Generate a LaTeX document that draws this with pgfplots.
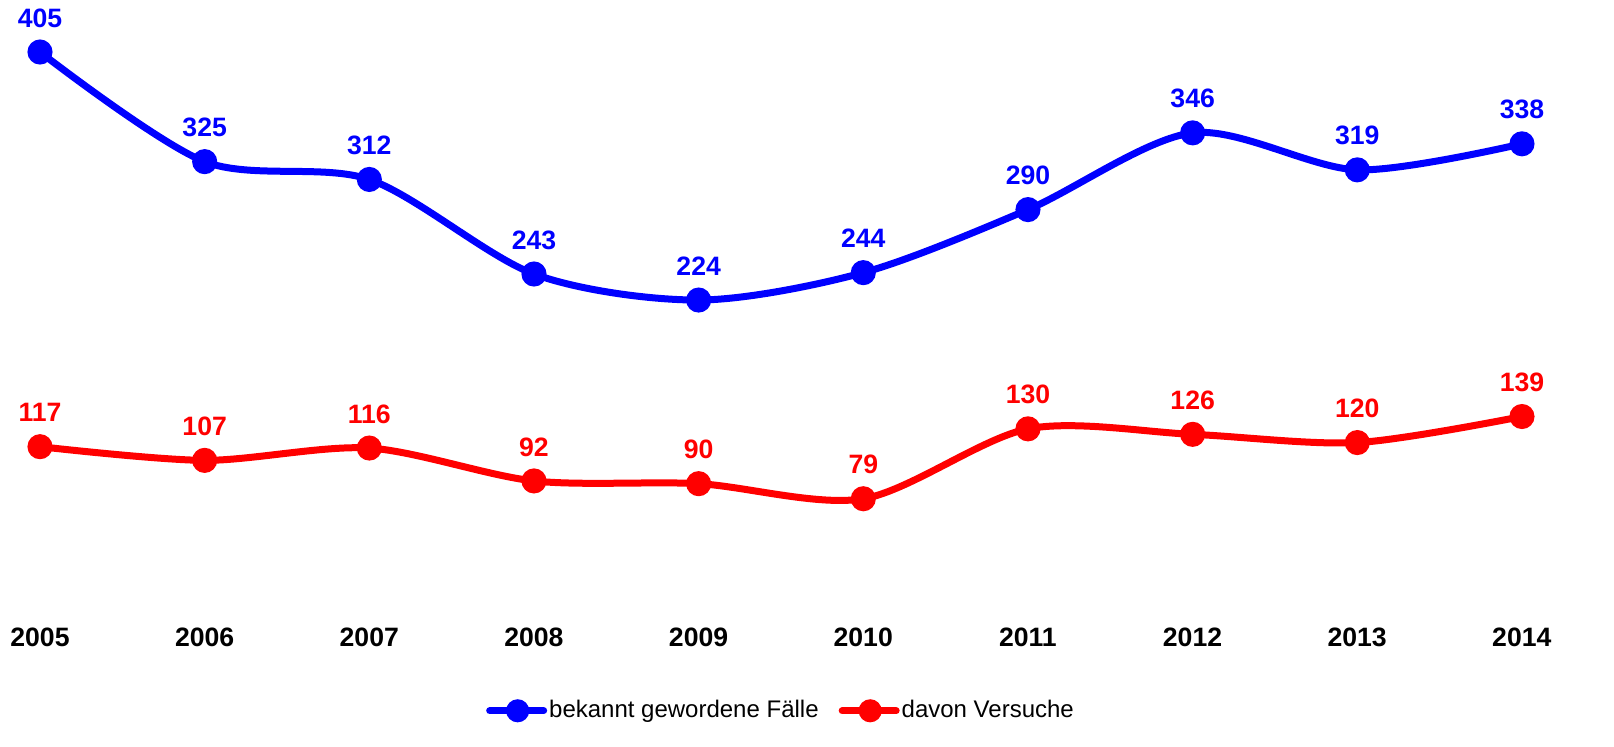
\documentclass[border=0pt]{standalone}
\usepackage{fontspec}
\setmainfont{Liberation Sans}
\usepackage{pgfplots}
\pgfplotsset{compat=1.18}
\definecolor{serA}{RGB}{0,0,255}
\definecolor{serB}{RGB}{255,0,0}

\begin{document}
\begin{tikzpicture}
    % fixed page: axis box sits at (0,0) -- (741pt,277.5pt)
    \useasboundingbox (-20pt,-69.5pt) rectangle (787pt,303.5pt);
    \begin{axis}[
        scale only axis,
        width=741pt,
        height=277.5pt,
        xmin=2005, xmax=2014,
        ymin=0, ymax=405,
        clip=false,
        axis line style={draw=none},
        tick style={draw=none},
        ytick=\empty,
        xtick={2005,...,2014},
        xticklabels={2005,2006,2007,2008,2009,2010,2011,2012,2013,2014},
        xticklabel style={font=\fontsize{13.3}{16}\selectfont\bfseries, anchor=center, yshift=-15pt},
        /pgf/number format/assume math mode=true,
        nodes near coords,
        every node near coord/.append style={font=\fontsize{13.3}{16}\selectfont\bfseries, anchor=center, yshift=17pt},
        legend columns=2,
        legend style={draw=none, at={(axis description cs:0.5,-0.187)}, anchor=center,
            font=\fontsize{12}{14}\selectfont, column sep=0pt,
            nodes={inner xsep=1pt},
            /tikz/every even column/.append style={column sep=9pt}},
        legend image code/.code={
            \draw[line width=3.5pt, line cap=round] (0pt,0pt) -- (27pt,0pt);
            \fill (14pt,0pt) circle (4pt);
        },
    ]
        % bekannt gewordene Faelle
        \addplot[serA, line width=3.5pt, smooth, tension=0.5, mark=*, mark size=4.5pt,
            every node near coord/.append style={text=serA}]
            coordinates {
            (2005,405) (2006,325) (2007,312) (2008,243) (2009,224)
            (2010,244) (2011,290) (2012,346) (2013,319) (2014,338)
        };
        \addlegendentry{bekannt gewordene Fälle}

        % davon Versuche
        \addplot[serB, line width=3.5pt, smooth, tension=0.5, mark=*, mark size=4.5pt,
            every node near coord/.append style={text=serB}]
            coordinates {
            (2005,117) (2006,107) (2007,116) (2008,92) (2009,90)
            (2010,79) (2011,130) (2012,126) (2013,120) (2014,139)
        };
        \addlegendentry{davon Versuche}
    \end{axis}
\end{tikzpicture}
\end{document}
